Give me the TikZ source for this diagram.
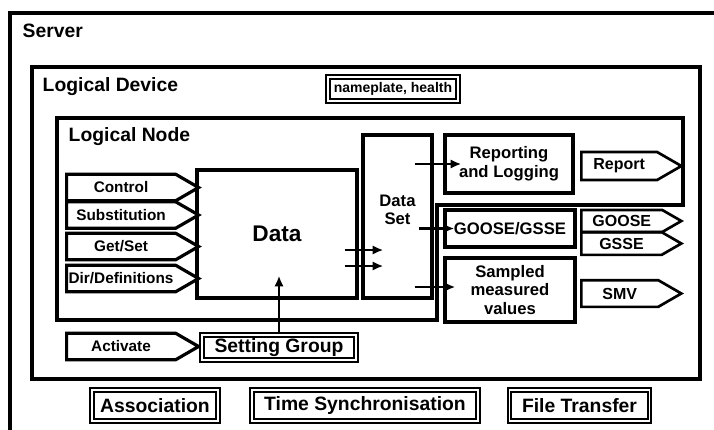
\documentclass[tikz,border=0pt]{standalone}
\usepackage{fontspec}
\setmainfont{Liberation Sans}
\usetikzlibrary{shapes.symbols,arrows.meta,calc}

\begin{document}
\begin{tikzpicture}[x=0.75pt,y=-0.75pt,
  frame/.style={draw,line width=2.6pt,inner sep=0pt,align=center,font=\fontsize{12.5}{14}\selectfont\bfseries},
  dframe/.style={draw,double,line width=1.5pt,double distance=1.3pt,inner sep=0pt,align=center,font=\fontsize{14.5}{16}\selectfont\bfseries},
  inarrow/.style={draw,line width=2.4pt,signal,signal to=east,signal pointer angle=60,minimum width=99pt,minimum height=20pt,inner sep=0pt,anchor=west,font=\fontsize{11.5}{13}\selectfont\bfseries},
  outarrow/.style={inarrow,line width=2pt,minimum width=75pt,font=\fontsize{12}{13}\selectfont\bfseries},
  title/.style={anchor=west,font=\fontsize{14.5}{16}\selectfont\bfseries},
  flow/.style={line width=2pt,-{Latex[length=8pt,width=7pt]}}]
\useasboundingbox (0,0) rectangle (714,429);
% containers
\draw[line width=3pt] (10,440) -- (10,13) -- (720,13);
\draw[line width=2.6pt] (32,67) rectangle (700,379);
\draw[line width=3pt] (57,118) -- (683,118) -- (683,205) -- (437,205) -- (437,320) -- (57,320) -- cycle;
\node[title] (server) at (18,31) {Server};
\node[title] (ldtitle) at (38,87) {Logical Device};
\node[title] (lntitle) at (64,137) {Logical Node};
\node[dframe,font=\fontsize{10.5}{12}\selectfont\bfseries,minimum width=97pt,minimum height=18pt] (nameplate) at (393,89) {nameplate, health};
% logical node content
\node[frame,minimum width=120pt,minimum height=96pt,font=\fontsize{17}{19}\selectfont\bfseries] (data) at (277,234) {Data};
\node[frame,minimum width=51.75pt,minimum height=122pt,text depth=10pt] (dataset) at (397.5,216.5) {Data\\Set};
\node[frame,minimum width=96pt,minimum height=43.5pt] (reporting) at (509,164) {Reporting\\and Logging};
\node[outarrow,minimum height=21pt] (report) at (580,166) {Report};
\node[frame,minimum width=97.5pt,minimum height=27.75pt] (goosegsse) at (510,228.5) {GOOSE/GSSE};
\node[outarrow,minimum height=16.5pt] (goose) at (580,221) {GOOSE};
\node[outarrow,minimum height=17pt] (gsse) at (580,243.5) {GSSE};
\node[frame,minimum width=97.5pt,minimum height=48pt] (sampled) at (510,290) {Sampled\\measured\\values};
\node[outarrow,minimum height=20pt] (smv) at (580,293.5) {SMV};
% services into data
\node[inarrow] (control) at (65,187.5) {Control};
\node[inarrow] (substitution) at (65,215) {Substitution};
\node[inarrow] (getset) at (65,246.5) {Get/Set};
\node[inarrow] (dirdef) at (65,278.5) {Dir/Definitions};
\node[inarrow] (activate) at (65,346.5) {Activate};
\node[dframe,minimum width=115pt,minimum height=19pt] (setgroup) at (279,347.5) {Setting Group};
% server services
\node[dframe,minimum width=94pt,minimum height=23pt] (association) at (155,405.5) {Association};
\node[dframe,minimum width=169pt,minimum height=23pt] (timesync) at (365,405.5) {Time Synchronisation};
\node[dframe,minimum width=105pt,minimum height=23pt] (filetransfer) at (579.5,405.5) {File Transfer};
% flows
\draw[flow] ($(data.east)+(-14,16)$) -- ($(data.east -| dataset.west)+(22,16)$);
\draw[flow] ($(data.east)+(-14,32)$) -- ($(data.east -| dataset.west)+(22,32)$);
\draw[flow] ($(dataset.east |- reporting.west)+(-19,0)$) -- ($(reporting.west)+(18,0)$);
\draw[flow] ($(dataset.east |- goosegsse.west)+(-15,0)$) -- ($(goosegsse.west)+(11,0)$);
\draw[flow] ($(dataset.east |- sampled.west)+(-19,-3)$) -- ($(sampled.west)+(12,-3)$);
\draw[flow] (setgroup.north) -- ($(data.south -| setgroup.north)+(0,-24)$);
\end{tikzpicture}
\end{document}
